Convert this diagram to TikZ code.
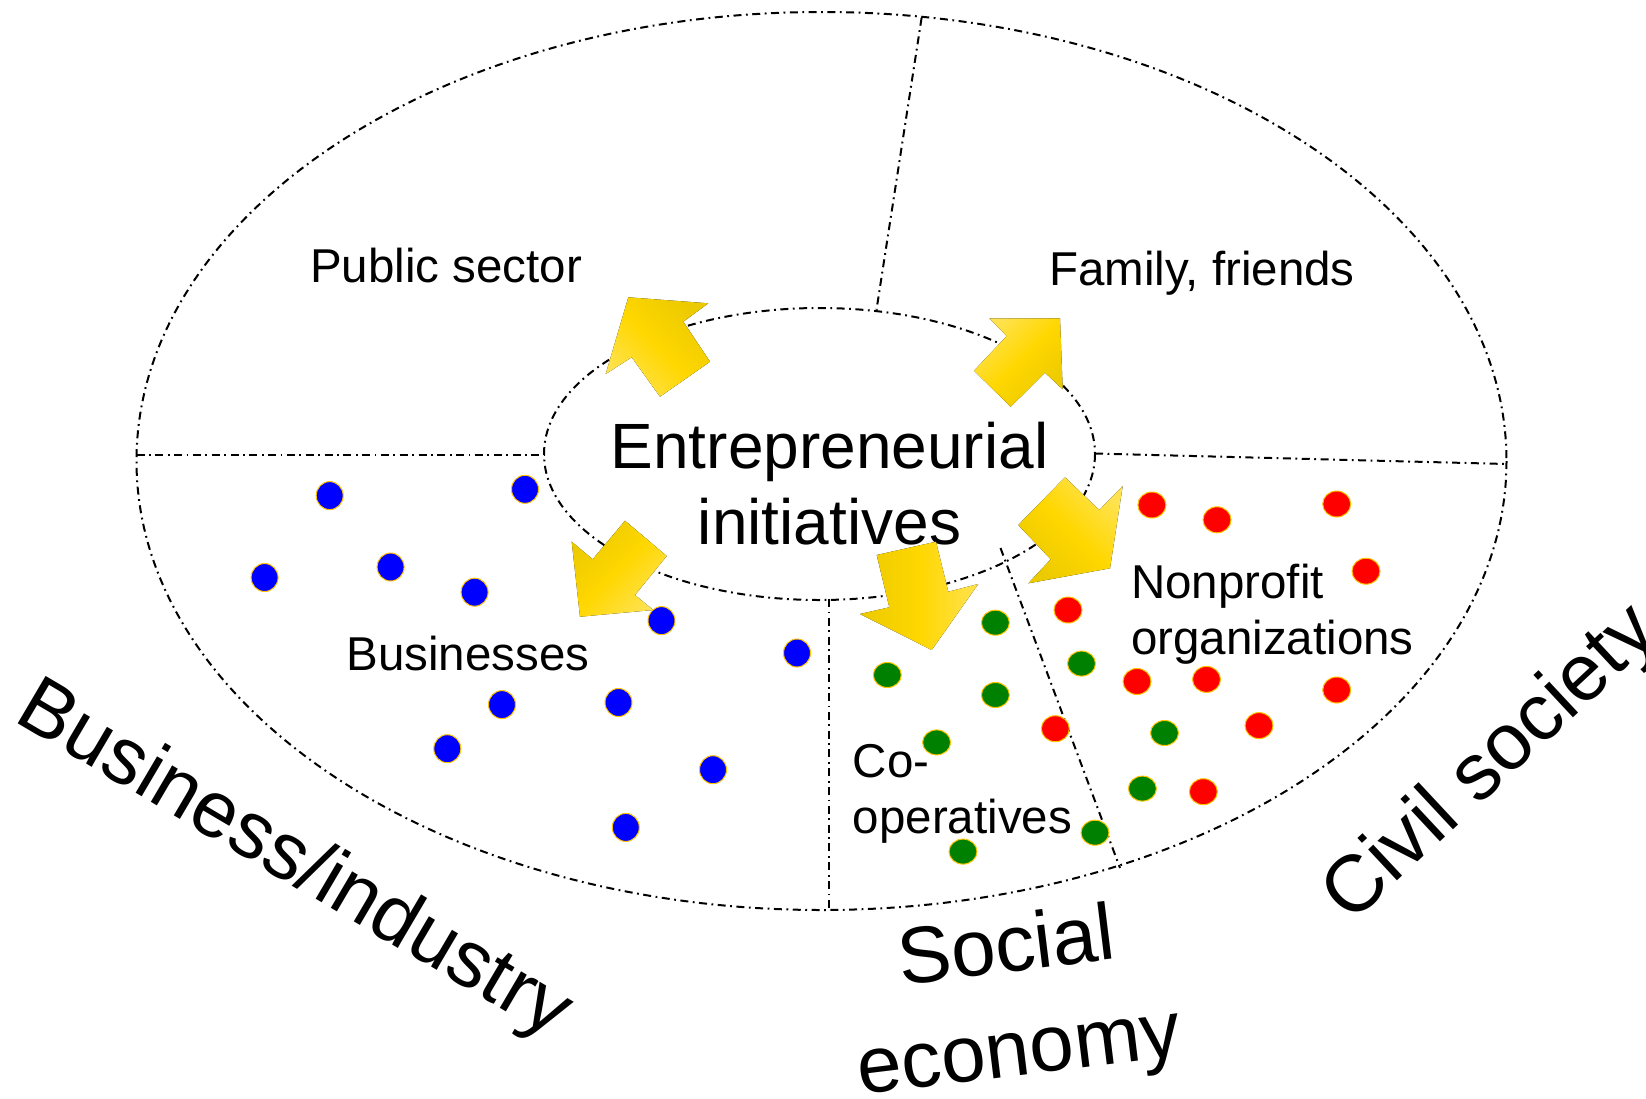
\documentclass[tikz,border=0pt]{standalone}
\usepackage{fontspec}
\setmainfont{Liberation Sans}
\usetikzlibrary{shapes.geometric}
\definecolor{arrowA}{RGB}{255,226,80}
\definecolor{arrowB}{RGB}{255,215,0}
\definecolor{arrowC}{RGB}{236,202,0}
\definecolor{dotblue}{RGB}{0,0,255}
\definecolor{dotred}{RGB}{255,0,0}
\definecolor{dotgreen}{RGB}{0,128,0}
\definecolor{dotrim}{RGB}{255,196,0}
\begin{document}
\begin{tikzpicture}[x=1pt,y=-1pt,
  divline/.style={line width=2pt, dash pattern=on 8pt off 4.5pt on 1.8pt off 4.5pt},
  bigarrow/.style={draw=none, left color=arrowC, right color=arrowA, middle color=arrowB},
  dotbase/.style={ellipse, draw=dotrim, line width=1pt, inner sep=0pt},
  bdot/.style={dotbase, fill=dotblue, minimum width=27pt, minimum height=28pt},
  gdot/.style={dotbase, fill=dotgreen, minimum width=28pt, minimum height=25pt},
  rdot/.style={dotbase, fill=dotred, minimum width=28pt, minimum height=26pt},
  lbl/.style={font=\fontsize{47.5}{55.5}\selectfont, inner sep=0pt},
  biglbl/.style={font=\fontsize{80}{104}\selectfont, inner sep=0pt},
]
\useasboundingbox (0,0) rectangle (1646,1098);
\fill[white] (0,0) rectangle (1646,1098);

% ellipses
\coordinate (oc) at (821.5,461);
\coordinate (ic) at (819.5,454);
\draw[divline] (oc) ellipse [x radius=685, y radius=449];
\draw[divline] (ic) ellipse [x radius=275.5, y radius=146];

% dividers
\coordinate (dl1) at (136.5,455);
\coordinate (dl2) at (544,455);
\coordinate (dr1) at (1095,453.5);
\coordinate (dr2) at (1506.5,464);
\coordinate (dt1) at (921.6,17.8);
\coordinate (dt2) at (876.5,309.7);
\coordinate (db1) at (829,599);
\coordinate (db2) at (829,909);
\coordinate (dd1) at (1000.5,548);
\coordinate (dd2) at (1120,868);
\draw[divline] (dl1) -- (dl2);
\draw[divline] (dr1) -- (dr2);
\draw[divline] (dt1) -- (dt2);
\draw[divline] (db1) -- (db2);
\draw[divline] (dd1) -- (dd2);

% labels
\node[lbl] (pub) at (446,266) {Public sector};
\node[lbl] (fam) at (1202,273) {Family, friends};
\node[lbl] (bus) at (468,654) {Businesses};
\node[lbl, align=left, anchor=west] (npo) at (1131,614) {Nonprofit\\organizations};
\node[lbl, align=left, anchor=west] (coop) at (852.6,794) {Co-\\operatives};
\node[font=\fontsize{64}{76}\selectfont, align=center, inner sep=0pt] (ent) at (829.5,484) {Entrepreneurial\\initiatives};

\node[biglbl, rotate=-30.5] (bi) at (293,862) {Business/industry};
\node[biglbl, align=center, rotate=7] (se) at (1013,1003) {Social\\economy};
\node[biglbl, rotate=43] (cs) at (1492,765) {Civil society};

% arrows
\fill[bigarrow, shading angle=-45] (628.3,297.3) -- (708.3,303.3) -- (683.3,321.7) -- (710,361.7) -- (660,396.7) -- (631.7,357.3) -- (605.7,374) -- cycle;
\fill[bigarrow, shading angle=225] (1060,318.3) -- (1062.7,389.3) -- (1045,372.7) -- (1010.7,406.7) -- (974,370.7) -- (1006.7,336) -- (989.3,318.3) -- cycle;
\fill[bigarrow, shading angle=45] (580,616.7) -- (571.7,541.7) -- (592.7,559.3) -- (625,520.7) -- (666.7,556) -- (635,595) -- (653.3,610) -- cycle;
\fill[bigarrow, shading angle=90] (931.7,650) -- (860,614) -- (889.3,607.3) -- (876.7,555) -- (936,541.7) -- (948.3,591.7) -- (978.3,584) -- cycle;
\fill[bigarrow, shading angle=135] (1110,568.3) -- (1028.3,583.3) -- (1050.7,559.3) -- (1018.3,525) -- (1065,477.3) -- (1099.3,510) -- (1122.7,486) -- cycle;

% blue dots
\node[bdot] (b1) at (329.7,495.6) {};
\node[bdot] (b2) at (525,489.3) {};
\node[bdot] (b3) at (264.6,577.5) {};
\node[bdot] (b4) at (390.6,567) {};
\node[bdot] (b5) at (474.6,592.2) {};
\node[bdot] (b6) at (661.5,620.6) {};
\node[bdot] (b7) at (797,653) {};
\node[bdot] (b8) at (502,704.6) {};
\node[bdot] (b9) at (618.5,702.5) {};
\node[bdot] (b10) at (447.3,748.7) {};
\node[bdot] (b11) at (713,769.7) {};
\node[bdot] (b12) at (625.8,827.4) {};

% green dots
\node[gdot] (g1) at (995.4,622.7) {};
\node[gdot] (g2) at (887.3,675) {};
\node[gdot] (g3) at (1081.5,663.6) {};
\node[gdot] (g4) at (995.4,695) {};
\node[gdot] (g5) at (936.6,742.4) {};
\node[gdot] (g6) at (1164.5,733) {};
\node[gdot] (g7) at (1142.4,788.6) {};
\node[gdot] (g8) at (1095,832.7) {};
\node[gdot] (g9) at (963,851.6) {};

% red dots
\node[rdot] (r1) at (1151.9,505) {};
\node[rdot] (r2) at (1217,519.8) {};
\node[rdot] (r3) at (1336.7,504) {};
\node[rdot] (r4) at (1366,571.2) {};
\node[rdot] (r5) at (1068,610) {};
\node[rdot] (r6) at (1137,681.5) {};
\node[rdot] (r7) at (1206.5,679.4) {};
\node[rdot] (r8) at (1336.7,690) {};
\node[rdot] (r9) at (1055.3,728.7) {};
\node[rdot] (r10) at (1259,725.6) {};
\node[rdot] (r11) at (1203.3,791.7) {};
\end{tikzpicture}
\end{document}
